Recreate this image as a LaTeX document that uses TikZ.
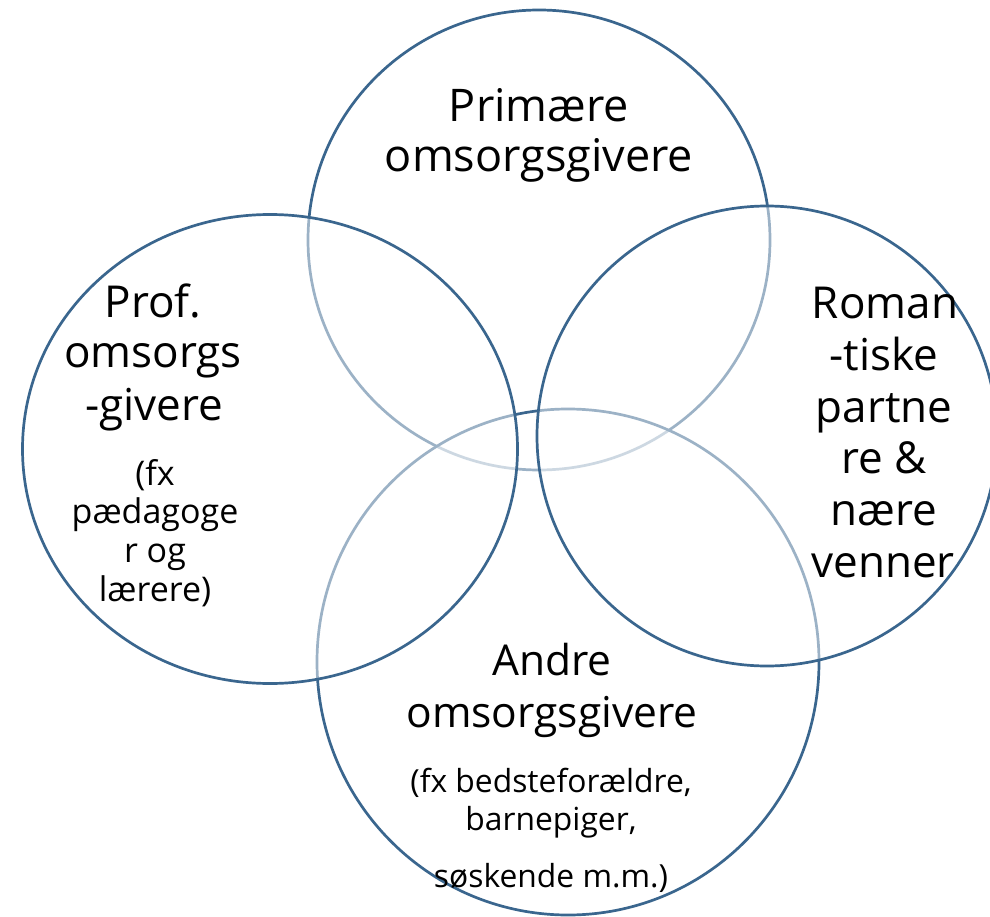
\documentclass[tikz,border=0pt]{standalone}
\usepackage{fontspec}
\setmainfont{Open Sans}
\usetikzlibrary{shapes.geometric}
\definecolor{ringc}{RGB}{58,102,142}
\begin{document}
\begin{tikzpicture}[x=1pt,y=-1pt,
  ring/.style={ellipse, draw=ringc, line width=2.7pt, fill=white, fill opacity=0.5,
    inner sep=0pt, outer sep=0pt},
  bigtext/.style={anchor=base, inner sep=0pt, font=\fontsize{#1}{#1}\selectfont},
  bigtext/.default=44,
  smalltext/.style={anchor=base, inner sep=0pt, font=\fontsize{#1}{#1}\selectfont},
  smalltext/.default=32]
\useasboundingbox (0,0) rectangle (990,917);
\clip (0,0) rectangle (990,917);
% circles (drawing order matters for the faded overlaps)
\node[ring, minimum width=462pt, minimum height=460pt] (ctop) at (539,240) {};
\node[ring, minimum width=502pt, minimum height=506pt] (cbot) at (568,662) {};
\node[ring, minimum width=495pt, minimum height=469pt] (cleft) at (270,449) {};
\node[ring, minimum width=460pt, minimum height=460pt] (cright) at (767,436) {};
% top
\node[bigtext=45] (t1) at (539,122) {Primære};
\node[bigtext=45] (t2) at (539,172) {omsorgsgivere};
% left
\node[bigtext] (l1) at (153,317) {Prof.};
\node[bigtext] (l2) at (153,367) {omsorgs};
\node[bigtext] (l3) at (154,420) {-givere};
\node[smalltext=34] (l4) at (155,485) {(fx};
\node[smalltext=34] (l5) at (155,523) {pædagoge};
\node[smalltext=34] (l6) at (155,562) {r og};
\node[smalltext=34] (l7) at (155,601) {lærere)};
% right
\node[bigtext] (r1) at (885,318) {Roman};
\node[bigtext] (r2) at (884,370) {-tiske};
\node[bigtext] (r3) at (884,422) {partne};
\node[bigtext] (r4) at (884,473) {re \&};
\node[bigtext] (r5) at (884,525) {nære};
\node[bigtext] (r6) at (883,577) {venner};
% bottom
\node[bigtext=42.5] (b1) at (552,675) {Andre};
\node[bigtext=42.5] (b2) at (552,727) {omsorgsgivere};
\node[smalltext=31.8] (b3) at (551,792) {(fx bedsteforældre,};
\node[smalltext=31.8] (b4) at (551,830) {barnepiger,};
\node[smalltext=31.8] (b5) at (551,887) {søskende m.m.)};
\end{tikzpicture}
\end{document}
